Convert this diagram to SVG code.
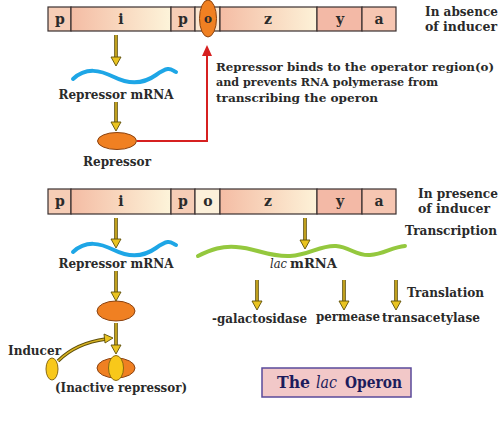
<svg xmlns="http://www.w3.org/2000/svg" xmlns:xlink="http://www.w3.org/1999/xlink" width="500" height="422" viewBox="0 0 500 422">
<style>
text{font-family:"DejaVu Serif","Liberation Serif",serif;font-weight:bold;fill:#2a2a2a;font-size:12.5px}
.seg{stroke:#3a3030;stroke-width:1.2}
.lbl{text-anchor:middle;font-size:14px}
.it{font-style:italic;font-weight:normal}
.ttl{fill:#1c1c5c;font-size:16px}
.note{font-size:11.8px}
.sh1{stroke:#5e4e08;stroke-width:3.6;fill:none}
.sh2{stroke:#d8b424;stroke-width:1.6;fill:none}
.ah{fill:#eac420;stroke:#5e4e08;stroke-width:0.9}
.orange{fill:#f08022;stroke:#8a4210;stroke-width:1}
.yellow{fill:#f8c81a;stroke:#8a6a10;stroke-width:1}
</style>
<defs>
<linearGradient id="gi" x1="0" x2="1" y1="0" y2="0"><stop offset="0" stop-color="#f4bca4"/><stop offset="1" stop-color="#fdf4da"/></linearGradient>
<linearGradient id="gz" x1="0" x2="1" y1="0" y2="0"><stop offset="0" stop-color="#f4bca4"/><stop offset="1" stop-color="#fdf2d8"/></linearGradient>
<polygon id="ahd" class="ah" points="-5,-8 5,-8 0,1"/>
</defs>

<g id="operon-top">
<rect class="seg" x="48" y="7" width="23" height="24" fill="#f6cdb6"/>
<rect class="seg" x="71" y="7" width="100" height="24" fill="url(#gi)"/>
<rect class="seg" x="171" y="7" width="24" height="24" fill="#f6cdb6"/>
<rect class="seg" x="195" y="7" width="25" height="24" fill="#fbe6d0"/>
<rect class="seg" x="220" y="7" width="97" height="24" fill="url(#gz)"/>
<rect class="seg" x="317" y="7" width="45" height="24" fill="#f3b9a6"/>
<rect class="seg" x="362" y="7" width="34" height="24" fill="#f6c6b2"/>
<text class="lbl" x="60" y="24">p</text>
<text class="lbl" x="121" y="24">i</text>
<text class="lbl" x="183" y="24">p</text>
<text class="lbl" x="268" y="24">z</text>
<text class="lbl" x="340" y="24">y</text>
<text class="lbl" x="379" y="24">a</text>
</g>
<g id="bound-repressor">
<ellipse class="orange" cx="208" cy="18.5" rx="8.5" ry="18.5"/>
<text class="lbl" x="208" y="23" style="font-size:12px">o</text>
</g>

<g id="operon-bottom">
<rect class="seg" x="48" y="189" width="23" height="25" fill="#f6cdb6"/>
<rect class="seg" x="71" y="189" width="100" height="25" fill="url(#gi)"/>
<rect class="seg" x="171" y="189" width="24" height="25" fill="#f6cdb6"/>
<rect class="seg" x="195" y="189" width="25" height="25" fill="#fcf0da"/>
<rect class="seg" x="220" y="189" width="97" height="25" fill="url(#gz)"/>
<rect class="seg" x="317" y="189" width="45" height="25" fill="#f3b9a6"/>
<rect class="seg" x="362" y="189" width="34" height="25" fill="#f6c6b2"/>
<text class="lbl" x="60" y="206">p</text>
<text class="lbl" x="121" y="206">i</text>
<text class="lbl" x="183" y="206">p</text>
<text class="lbl" x="208" y="206">o</text>
<text class="lbl" x="268" y="206">z</text>
<text class="lbl" x="340" y="206">y</text>
<text class="lbl" x="379" y="206">a</text>
</g>

<g id="mrna-top">
<path d="M73,79 C86,67 100,70 114,77 S142,85 156,75 S171,70 176,72" fill="none" stroke="#1ea6e6" stroke-width="4" stroke-linecap="round"/>
<text x="116" y="99" text-anchor="middle" textLength="115" lengthAdjust="spacingAndGlyphs">Repressor mRNA</text>
</g>
<g id="repressor-top">
<ellipse class="orange" cx="117" cy="141" rx="19.5" ry="8.5"/>
<text x="117" y="166" text-anchor="middle" textLength="68" lengthAdjust="spacingAndGlyphs">Repressor</text>
</g>
<g id="mrna-bottom">
<path d="M73,252 C86,240 100,243 114,250 S142,258 156,248 S171,243 176,245" fill="none" stroke="#1ea6e6" stroke-width="4" stroke-linecap="round"/>
<text x="116" y="268" text-anchor="middle" textLength="115" lengthAdjust="spacingAndGlyphs">Repressor mRNA</text>
</g>
<g id="lac-mrna">
<path d="M198,256 C212,249 222,246 236,247 C256,248 268,257 290,256 C310,255 320,245 336,246 C350,247 356,256 370,255 C384,254 392,247 405,246" fill="none" stroke="#94c83e" stroke-width="4" stroke-linecap="round"/>
<text class="it" x="270" y="268" textLength="17" lengthAdjust="spacingAndGlyphs">lac</text>
<text x="290" y="268" textLength="47" lengthAdjust="spacingAndGlyphs">mRNA</text>
</g>
<g id="repressor-bottom">
<ellipse class="orange" cx="116" cy="311" rx="19" ry="10"/>
</g>
<g id="inducer">
<ellipse class="yellow" cx="52" cy="369" rx="6" ry="11"/>
<text x="8" y="355" textLength="53" lengthAdjust="spacingAndGlyphs">Inducer</text>
</g>
<g id="inactive-repressor">
<ellipse class="orange" cx="116" cy="368" rx="19" ry="10"/>
<ellipse class="yellow" cx="116" cy="368" rx="7.5" ry="12.5"/>
<text x="55" y="392" textLength="132" lengthAdjust="spacingAndGlyphs">(Inactive repressor)</text>
</g>
<g id="enzymes">
<text x="212" y="323" textLength="95" lengthAdjust="spacingAndGlyphs">-galactosidase</text>
<text x="316" y="321" textLength="64" lengthAdjust="spacingAndGlyphs">permease</text>
<text x="382" y="322" textLength="98" lengthAdjust="spacingAndGlyphs">transacetylase</text>
</g>
<g id="labels">
<text x="425" y="16" textLength="73" lengthAdjust="spacingAndGlyphs">In absence</text>
<text x="425" y="31" textLength="72" lengthAdjust="spacingAndGlyphs">of inducer</text>
<text class="note" x="216" y="71" textLength="278" lengthAdjust="spacingAndGlyphs">Repressor binds to the operator region(o)</text>
<text class="note" x="216" y="86" textLength="222" lengthAdjust="spacingAndGlyphs">and prevents RNA polymerase from</text>
<text class="note" x="216" y="102" textLength="162" lengthAdjust="spacingAndGlyphs">transcribing the operon</text>
<text x="418" y="198" textLength="80" lengthAdjust="spacingAndGlyphs">In presence</text>
<text x="418" y="213" textLength="72" lengthAdjust="spacingAndGlyphs">of inducer</text>
<text x="405" y="235" textLength="92" lengthAdjust="spacingAndGlyphs">Transcription</text>
<text x="407" y="297" textLength="77" lengthAdjust="spacingAndGlyphs">Translation</text>
</g>
<g id="title">
<rect x="262" y="368" width="149" height="29" fill="#f2c8c8" stroke="#5a4a9a" stroke-width="1.5"/>
<text class="ttl" x="277" y="388" textLength="33" lengthAdjust="spacingAndGlyphs">The</text>
<text class="ttl it" x="316" y="388" textLength="21" lengthAdjust="spacingAndGlyphs">lac</text>
<text class="ttl" x="345" y="388" textLength="57" lengthAdjust="spacingAndGlyphs">Operon</text>
</g>

<g id="connectors">
<path class="sh1" d="M116,35 V59 M116,102 V124 M116,218 V241 M305,218 V241 M116,271 V293 M116,323 V346 M257,280 V302 M344,280 V302 M396,280 V302 M58,361 Q76,343 106,339"/>
<path class="sh2" d="M116,35 V59 M116,102 V124 M116,218 V241 M305,218 V241 M116,271 V293 M116,323 V346 M257,280 V302 M344,280 V302 M396,280 V302 M58,361 Q76,343 106,339"/>
<use xlink:href="#ahd" x="116" y="65"/>
<use xlink:href="#ahd" x="116" y="130"/>
<use xlink:href="#ahd" x="116" y="247"/>
<use xlink:href="#ahd" x="305" y="248"/>
<use xlink:href="#ahd" x="116" y="300"/>
<use xlink:href="#ahd" x="116" y="353"/>
<use xlink:href="#ahd" x="257" y="309"/>
<use xlink:href="#ahd" x="344" y="309"/>
<use xlink:href="#ahd" x="396" y="309"/>
<polygon class="ah" points="104,334 113,338 105,343"/>
<path d="M137,141 H207 V54" fill="none" stroke="#d62020" stroke-width="2"/>
<polygon points="202,56 212,56 207,45" fill="#d62020"/>
</g>
</svg>
